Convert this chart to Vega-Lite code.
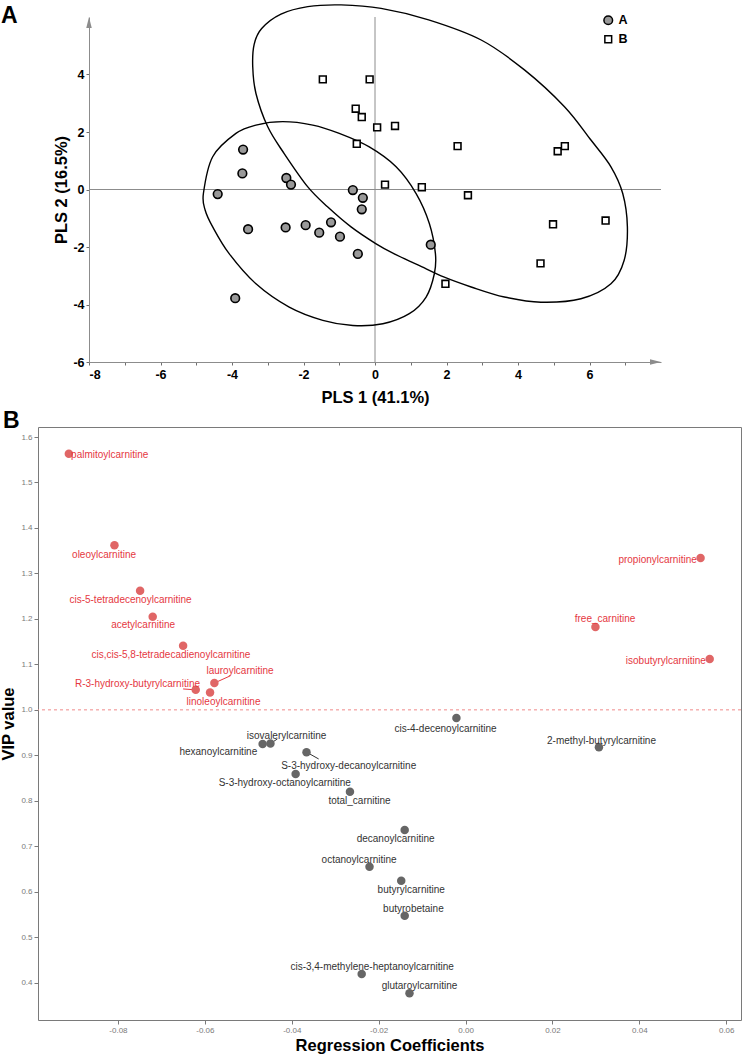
{
  "$schema": "https://vega.github.io/schema/vega-lite/v6.json",
  "padding": {"left": 0, "top": 2, "right": 0, "bottom": 0},
  "background": "white",
  "spacing": 3,
  "config": {
    "font": "Liberation Sans",
    "view": {"stroke": null},
    "axis": {"grid": false}
  },
  "datasets": {
    "scores": [
      {"g": "A", "x": -4.40, "y": -0.16}, {"g": "A", "x": -3.69, "y": 1.39}, {"g": "A", "x": -3.71, "y": 0.56},
      {"g": "A", "x": -3.55, "y": -1.38}, {"g": "A", "x": -3.91, "y": -3.78}, {"g": "A", "x": -2.48, "y": 0.40},
      {"g": "A", "x": -2.35, "y": 0.17}, {"g": "A", "x": -2.50, "y": -1.32}, {"g": "A", "x": -1.94, "y": -1.24},
      {"g": "A", "x": -1.56, "y": -1.50}, {"g": "A", "x": -1.23, "y": -1.14}, {"g": "A", "x": -0.98, "y": -1.64},
      {"g": "A", "x": -0.62, "y": -0.02}, {"g": "A", "x": -0.34, "y": -0.29}, {"g": "A", "x": -0.37, "y": -0.69},
      {"g": "A", "x": -0.48, "y": -2.24}, {"g": "A", "x": 1.56, "y": -1.92},
      {"g": "B", "x": -1.46, "y": 3.83}, {"g": "B", "x": -0.15, "y": 3.83}, {"g": "B", "x": -0.54, "y": 2.81},
      {"g": "B", "x": -0.37, "y": 2.52}, {"g": "B", "x": 0.06, "y": 2.16}, {"g": "B", "x": -0.51, "y": 1.59},
      {"g": "B", "x": 0.56, "y": 2.21}, {"g": "B", "x": 2.31, "y": 1.51}, {"g": "B", "x": 0.28, "y": 0.17},
      {"g": "B", "x": 1.31, "y": 0.08}, {"g": "B", "x": 2.60, "y": -0.20}, {"g": "B", "x": 5.11, "y": 1.33},
      {"g": "B", "x": 5.31, "y": 1.51}, {"g": "B", "x": 4.98, "y": -1.21}, {"g": "B", "x": 6.45, "y": -1.08},
      {"g": "B", "x": 4.63, "y": -2.57}, {"g": "B", "x": 1.97, "y": -3.28}
    ],
    "ellipses": [
      {"e": "A", "i": 0, "x": -4.80, "y": -0.14}, {"e": "A", "i": 1, "x": -4.54, "y": 1.14},
      {"e": "A", "i": 2, "x": -3.89, "y": 1.95}, {"e": "A", "i": 3, "x": -3.33, "y": 2.24},
      {"e": "A", "i": 4, "x": -2.58, "y": 2.36}, {"e": "A", "i": 5, "x": -1.74, "y": 2.24},
      {"e": "A", "i": 6, "x": -1.00, "y": 1.95}, {"e": "A", "i": 7, "x": -0.16, "y": 1.48},
      {"e": "A", "i": 8, "x": 0.59, "y": 0.79}, {"e": "A", "i": 9, "x": 1.15, "y": -0.14},
      {"e": "A", "i": 10, "x": 1.52, "y": -1.18}, {"e": "A", "i": 11, "x": 1.69, "y": -2.23},
      {"e": "A", "i": 12, "x": 1.66, "y": -2.93}, {"e": "A", "i": 13, "x": 1.43, "y": -3.74},
      {"e": "A", "i": 14, "x": 0.96, "y": -4.32}, {"e": "A", "i": 15, "x": 0.22, "y": -4.67},
      {"e": "A", "i": 16, "x": -0.62, "y": -4.73}, {"e": "A", "i": 17, "x": -1.46, "y": -4.55},
      {"e": "A", "i": 18, "x": -2.40, "y": -4.09}, {"e": "A", "i": 19, "x": -3.33, "y": -3.28},
      {"e": "A", "i": 20, "x": -4.08, "y": -2.23}, {"e": "A", "i": 21, "x": -4.54, "y": -1.30},
      {"e": "A", "i": 22, "x": -4.75, "y": -0.72},
      {"e": "B", "i": 0, "x": -3.42, "y": 4.27}, {"e": "B", "i": 1, "x": -3.38, "y": 5.05},
      {"e": "B", "i": 2, "x": -3.17, "y": 5.60}, {"e": "B", "i": 3, "x": -2.63, "y": 6.10},
      {"e": "B", "i": 4, "x": -1.88, "y": 6.36}, {"e": "B", "i": 5, "x": -0.95, "y": 6.42},
      {"e": "B", "i": 6, "x": 0.17, "y": 6.30}, {"e": "B", "i": 7, "x": 1.50, "y": 5.90},
      {"e": "B", "i": 8, "x": 2.97, "y": 5.20}, {"e": "B", "i": 9, "x": 4.18, "y": 4.16},
      {"e": "B", "i": 10, "x": 5.30, "y": 2.88}, {"e": "B", "i": 11, "x": 6.04, "y": 1.72},
      {"e": "B", "i": 12, "x": 6.60, "y": 0.79}, {"e": "B", "i": 13, "x": 6.93, "y": -0.14},
      {"e": "B", "i": 14, "x": 7.06, "y": -1.30}, {"e": "B", "i": 15, "x": 6.97, "y": -2.46},
      {"e": "B", "i": 16, "x": 6.60, "y": -3.28}, {"e": "B", "i": 17, "x": 5.76, "y": -3.80},
      {"e": "B", "i": 18, "x": 4.64, "y": -3.92}, {"e": "B", "i": 19, "x": 3.62, "y": -3.74},
      {"e": "B", "i": 20, "x": 2.69, "y": -3.39}, {"e": "B", "i": 21, "x": 1.94, "y": -3.05},
      {"e": "B", "i": 22, "x": 1.20, "y": -2.62}, {"e": "B", "i": 23, "x": 0.54, "y": -2.24},
      {"e": "B", "i": 24, "x": 0.02, "y": -1.88}, {"e": "B", "i": 25, "x": -0.67, "y": -1.30},
      {"e": "B", "i": 26, "x": -1.32, "y": -0.61}, {"e": "B", "i": 27, "x": -1.88, "y": 0.09},
      {"e": "B", "i": 28, "x": -2.54, "y": 1.25}, {"e": "B", "i": 29, "x": -3.00, "y": 2.18},
      {"e": "B", "i": 30, "x": -3.33, "y": 3.34}
    ],
    "vip": [
      {"name": "palmitoylcarnitine", "sig": "red", "coef": -0.0913, "vip": 1.563, "lx": -0.0819, "ly": 1.560},
      {"name": "oleoylcarnitine", "sig": "red", "coef": -0.0808, "vip": 1.362, "lx": -0.0832, "ly": 1.340},
      {"name": "cis-5-tetradecenoylcarnitine", "sig": "red", "coef": -0.0749, "vip": 1.262, "lx": -0.0771, "ly": 1.242},
      {"name": "acetylcarnitine", "sig": "red", "coef": -0.0720, "vip": 1.205, "lx": -0.0742, "ly": 1.186},
      {"name": "cis,cis-5,8-tetradecadienoylcarnitine", "sig": "red", "coef": -0.0650, "vip": 1.141, "lx": -0.0678, "ly": 1.121},
      {"name": "lauroylcarnitine", "sig": "red", "coef": -0.0578, "vip": 1.059, "lx": -0.0519, "ly": 1.085, "sx": -0.0541, "sy": 1.075},
      {"name": "R-3-hydroxy-butyrylcarnitine", "sig": "red", "coef": -0.0621, "vip": 1.044, "lx": -0.0755, "ly": 1.057, "sx": -0.0650, "sy": 1.046},
      {"name": "linoleoylcarnitine", "sig": "red", "coef": -0.0588, "vip": 1.038, "lx": -0.0557, "ly": 1.017},
      {"name": "propionylcarnitine", "sig": "red", "coef": 0.0541, "vip": 1.334, "lx": 0.0442, "ly": 1.329},
      {"name": "free_carnitine", "sig": "red", "coef": 0.0299, "vip": 1.182, "lx": 0.0321, "ly": 1.199},
      {"name": "isobutyrylcarnitine", "sig": "red", "coef": 0.0562, "vip": 1.112, "lx": 0.0461, "ly": 1.108},
      {"name": "cis-4-decenoylcarnitine", "sig": "gray", "coef": -0.0021, "vip": 0.982, "lx": -0.0046, "ly": 0.958},
      {"name": "2-methyl-butyrylcarnitine", "sig": "gray", "coef": 0.0307, "vip": 0.918, "lx": 0.0313, "ly": 0.932},
      {"name": "hexanoylcarnitine", "sig": "gray", "coef": -0.0467, "vip": 0.925, "lx": -0.0569, "ly": 0.908},
      {"name": "isovalerylcarnitine", "sig": "gray", "coef": -0.0449, "vip": 0.926, "lx": -0.0412, "ly": 0.942, "sx": -0.0433, "sy": 0.936},
      {"name": "S-3-hydroxy-decanoylcarnitine", "sig": "gray", "coef": -0.0366, "vip": 0.907, "lx": -0.0269, "ly": 0.877, "sx": -0.0338, "sy": 0.892},
      {"name": "S-3-hydroxy-octanoylcarnitine", "sig": "gray", "coef": -0.0391, "vip": 0.859, "lx": -0.0416, "ly": 0.839},
      {"name": "total_carnitine", "sig": "gray", "coef": -0.0266, "vip": 0.820, "lx": -0.0244, "ly": 0.800},
      {"name": "decanoylcarnitine", "sig": "gray", "coef": -0.0140, "vip": 0.736, "lx": -0.0161, "ly": 0.716},
      {"name": "octanoylcarnitine", "sig": "gray", "coef": -0.0221, "vip": 0.655, "lx": -0.0245, "ly": 0.670},
      {"name": "butyrylcarnitine", "sig": "gray", "coef": -0.0148, "vip": 0.624, "lx": -0.0125, "ly": 0.604},
      {"name": "butyrobetaine", "sig": "gray", "coef": -0.0140, "vip": 0.547, "lx": -0.0120, "ly": 0.561},
      {"name": "cis-3,4-methylene-heptanoylcarnitine", "sig": "gray", "coef": -0.0239, "vip": 0.419, "lx": -0.0215, "ly": 0.434},
      {"name": "glutaroylcarnitine", "sig": "gray", "coef": -0.0129, "vip": 0.377, "lx": -0.0106, "ly": 0.392}
    ]
  },
  "vconcat": [
    {
      "width": 623,
      "height": 345,
      "title": {"text": "A", "anchor": "start", "frame": "group", "orient": "top", "offset": 0, "dx": -37, "dy": 44, "baseline": "alphabetic", "fontSize": 23, "fontWeight": "bold", "color": "#000000", "font": "Liberation Sans"},
      "layer": [
        {
          "data": {"values": [{}]},
          "mark": {"type": "rule", "color": "#8c8c8c", "strokeWidth": 1},
          "encoding": {
            "x": {"datum": -8, "type": "quantitative"},
            "x2": {"datum": 8},
            "y": {"datum": 0, "type": "quantitative"}
          }
        },
        {
          "data": {"values": [{}]},
          "mark": {"type": "rule", "color": "#8c8c8c", "strokeWidth": 1},
          "encoding": {
            "x": {"datum": 0, "type": "quantitative"},
            "y": {"datum": -6, "type": "quantitative"},
            "y2": {"datum": 6}
          }
        },
        {
          "data": {"name": "ellipses"},
          "mark": {"type": "line", "interpolate": "cardinal-closed", "color": "#000000", "strokeWidth": 1.4},
          "encoding": {
            "x": {"field": "x", "type": "quantitative"},
            "y": {"field": "y", "type": "quantitative"},
            "detail": {"field": "e"},
            "order": {"field": "i", "type": "quantitative"}
          }
        },
        {
          "data": {"name": "scores"},
          "mark": {"type": "point", "filled": true, "stroke": "#000000", "strokeWidth": 1.6, "opacity": 1},
          "encoding": {
            "x": {
              "field": "x", "type": "quantitative",
              "scale": {"domain": [-8, 8], "range": [51, 623], "nice": false, "zero": false},
              "axis": {
                "title": "PLS 1 (41.1%)", "values": [-8, -7, -6, -5, -4, -3, -2, -1, 0, 1, 2, 3, 4, 5, 6, 7],
                "labelExpr": "datum.value % 2 == 0 ? '' + datum.value : ''",
                "domainColor": "#8c8c8c", "tickColor": "#6e6e6e", "tickSize": 3,
                "labelFont": "Liberation Sans", "labelFontWeight": "bold", "labelFontSize": 12.5, "labelColor": "#000000", "labelPadding": 3,
                "titleFont": "Liberation Sans", "titleFontWeight": "bold", "titleFontSize": 16.5, "titleColor": "#000000", "titlePadding": 9
              }
            },
            "y": {
              "field": "y", "type": "quantitative",
              "scale": {"domain": [-6, 6], "nice": false, "zero": false},
              "axis": {
                "title": "PLS 2 (16.5%)", "offset": -51, "values": [-6, -5, -4, -3, -2, -1, 0, 1, 2, 3, 4, 5],
                "labelExpr": "datum.value % 2 == 0 ? '' + datum.value : ''",
                "domainColor": "#8c8c8c", "tickColor": "#6e6e6e", "tickSize": 3,
                "labelFont": "Liberation Sans", "labelFontWeight": "bold", "labelFontSize": 12.5, "labelColor": "#000000", "labelPadding": 2,
                "titleFont": "Liberation Sans", "titleFontWeight": "bold", "titleFontSize": 16.5, "titleColor": "#000000", "titlePadding": 3
              }
            },
            "shape": {"field": "g", "type": "nominal", "scale": {"domain": ["A", "B"], "range": ["circle", "square"]},
              "legend": {"title": null, "orient": "none", "legendX": 564, "legendY": -3, "padding": 0, "rowPadding": 4, "labelFont": "Liberation Sans", "labelFontWeight": "bold", "labelFontSize": 12.5, "labelColor": "#000000", "labelOffset": 4,
                "encode": {"symbols": {"update": {"stroke": {"value": "#000000"}, "strokeWidth": {"value": 1.6}}}}}},
            "fill": {"field": "g", "type": "nominal", "scale": {"domain": ["A", "B"], "range": ["#999999", "#ffffff"]},
              "legend": {"title": null, "orient": "none", "legendX": 564, "legendY": -3, "padding": 0, "rowPadding": 4, "labelFont": "Liberation Sans", "labelFontWeight": "bold", "labelFontSize": 12.5, "labelColor": "#000000", "labelOffset": 4,
                "encode": {"symbols": {"update": {"stroke": {"value": "#000000"}, "strokeWidth": {"value": 1.6}}}}}},
            "size": {"field": "g", "type": "nominal", "scale": {"domain": ["A", "B"], "range": [75, 46]},
              "legend": {"title": null, "orient": "none", "legendX": 564, "legendY": -3, "padding": 0, "rowPadding": 4, "labelFont": "Liberation Sans", "labelFontWeight": "bold", "labelFontSize": 12.5, "labelColor": "#000000", "labelOffset": 4,
                "encode": {"symbols": {"update": {"stroke": {"value": "#000000"}, "strokeWidth": {"value": 1.6}}}}}}
          }
        },
        {
          "data": {"values": [{}]},
          "mark": {"type": "point", "filled": true, "color": "#8c8c8c", "opacity": 1, "size": 121, "shape": "M0,0L0.5,2L-0.5,2Z"},
          "encoding": {
            "x": {"datum": -8, "type": "quantitative"},
            "y": {"datum": 6, "type": "quantitative"}
          }
        },
        {
          "data": {"values": [{}]},
          "mark": {"type": "point", "filled": true, "color": "#8c8c8c", "opacity": 1, "size": 121, "shape": "M0,0L-2,-0.5L-2,0.5Z"},
          "encoding": {
            "x": {"datum": 8, "type": "quantitative"},
            "y": {"datum": -6, "type": "quantitative"}
          }
        }
      ]
    },
    {
      "width": 703,
      "height": 593,
      "view": {"stroke": "#7a7a7a", "strokeWidth": 1},
      "title": {"text": "B", "anchor": "start", "frame": "group", "orient": "top", "offset": 0, "dx": -35, "dy": 24, "baseline": "alphabetic", "fontSize": 23, "fontWeight": "bold", "color": "#000000", "font": "Liberation Sans"},
      "layer": [
        {
          "data": {"values": [{}]},
          "mark": {"type": "rule", "color": "#F08A8A", "strokeWidth": 1, "strokeDash": [3, 3]},
          "encoding": {
            "y": {"datum": 1.0, "type": "quantitative"}
          }
        },
        {
          "data": {"name": "vip"},
          "transform": [{"filter": "isValid(datum.sx)"}],
          "mark": {"type": "rule", "strokeWidth": 1},
          "encoding": {
            "x": {"field": "coef", "type": "quantitative", "title": "Regression Coefficients"},
            "y": {"field": "vip", "type": "quantitative", "title": "VIP value"},
            "x2": {"field": "sx"},
            "y2": {"field": "sy"},
            "color": {"condition": {"test": "datum.sig == 'red'", "value": "#E5383F"}, "value": "#333333"}
          }
        },
        {
          "data": {"name": "vip"},
          "mark": {"type": "circle", "size": 72, "opacity": 1},
          "encoding": {
            "x": {
              "field": "coef", "type": "quantitative", "title": "Regression Coefficients",
              "scale": {"domain": [-0.0984, 0.0634], "nice": false, "zero": false},
              "axis": {
                "values": [-0.08, -0.06, -0.04, -0.02, 0, 0.02, 0.04, 0.06],
                "labelExpr": "replace(format(datum.value, '.2f'), '\u2212', '-')",
                "domain": false, "tickColor": "#7a7a7a", "tickSize": 4,
                "labelFont": "Liberation Sans", "labelFontSize": 8, "labelColor": "#7a7a7a", "labelPadding": 2,
                "titleFont": "Liberation Sans", "titleFontWeight": "bold", "titleFontSize": 16.5, "titleColor": "#000000", "titlePadding": 3
              }
            },
            "y": {
              "field": "vip", "type": "quantitative", "title": "VIP value",
              "scale": {"domain": [0.318, 1.622], "nice": false, "zero": false},
              "axis": {
                "values": [0.4, 0.5, 0.6, 0.7, 0.8, 0.9, 1.0, 1.1, 1.2, 1.3, 1.4, 1.5, 1.6],
                "format": ".1f",
                "domain": false, "tickColor": "#7a7a7a", "tickSize": 4,
                "labelFont": "Liberation Sans", "labelFontSize": 8, "labelColor": "#7a7a7a", "labelPadding": 2,
                "titleFont": "Liberation Sans", "titleFontWeight": "bold", "titleFontSize": 16.5, "titleColor": "#000000", "titlePadding": 4
              }
            },
            "color": {"condition": {"test": "datum.sig == 'red'", "value": "#E06666"}, "value": "#666666"}
          }
        },
        {
          "data": {"name": "vip"},
          "mark": {"type": "text", "fontSize": 10, "font": "Liberation Sans", "align": "center", "baseline": "middle"},
          "encoding": {
            "x": {"field": "lx", "type": "quantitative", "title": "Regression Coefficients"},
            "y": {"field": "ly", "type": "quantitative", "title": "VIP value"},
            "text": {"field": "name"},
            "color": {"condition": {"test": "datum.sig == 'red'", "value": "#E5383F"}, "value": "#333333"}
          }
        }
      ]
    }
  ]
}
